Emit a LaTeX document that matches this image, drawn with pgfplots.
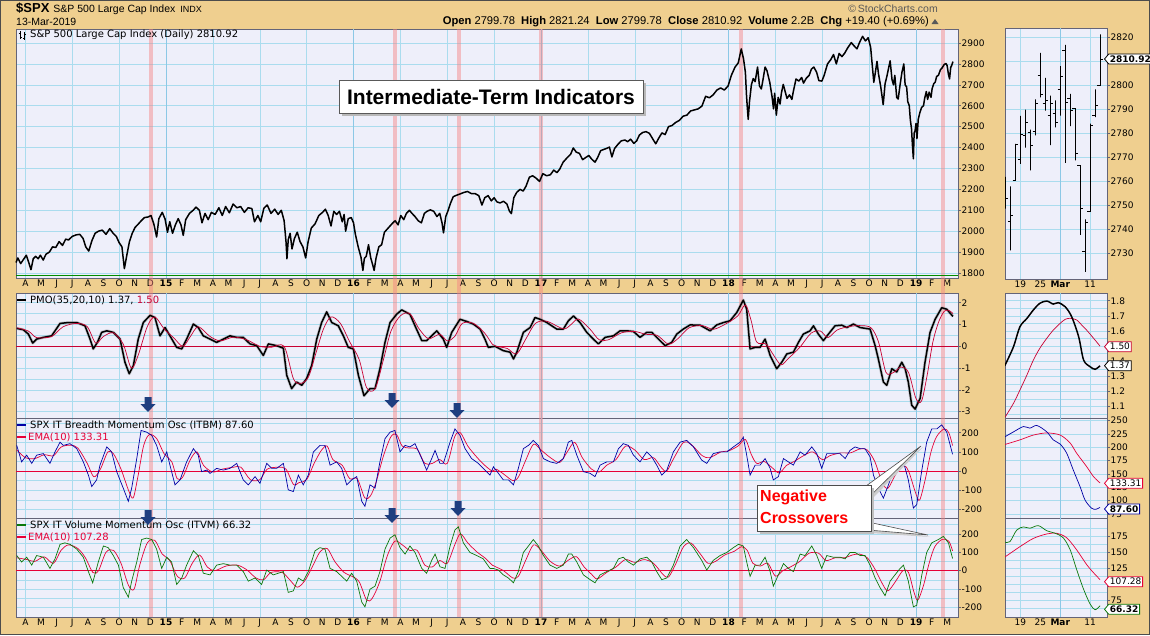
\documentclass[border=0pt]{standalone}
\usepackage{pgfplots}
\pgfplotsset{compat=1.18}
\usepackage{pgfplotstable}
\usepackage{fontspec}
\setmainfont{DejaVu Sans}
\newfontfamily\arial{Liberation Sans}
\usetikzlibrary{shapes.symbols}

\definecolor{bgtan}{RGB}{239,207,143}
\definecolor{panelbg}{RGB}{238,239,250}
\definecolor{gridblue}{RGB}{170,220,238}
\definecolor{gridyear}{RGB}{140,200,230}
\definecolor{framegray}{RGB}{100,100,120}
\definecolor{sigred}{RGB}{200,0,50}
\definecolor{emared}{RGB}{230,0,55}
\definecolor{itbmblue}{RGB}{0,0,165}
\definecolor{itvmgreen}{RGB}{10,120,10}
\definecolor{arrowblue}{RGB}{30,62,128}
\definecolor{bandpink}{RGB}{245,130,130}

\newcommand{\tickfont}{\fontsize{9}{10}\selectfont}
\newcommand{\labfont}{\fontsize{10}{11}\selectfont}
\newcommand{\bands}[2]{%
 \fill[bandpink,opacity=0.45] (2014.909,#1) rectangle (2014.931,#2);
 \fill[bandpink,opacity=0.45] (2016.210,#1) rectangle (2016.232,#2);
 \fill[bandpink,opacity=0.45] (2016.552,#1) rectangle (2016.574,#2);
 \fill[bandpink,opacity=0.45] (2016.989,#1) rectangle (2017.011,#2);
 \fill[bandpink,opacity=0.45] (2018.056,#1) rectangle (2018.078,#2);
 \fill[bandpink,opacity=0.45] (2019.133,#1) rectangle (2019.155,#2);}
\newcommand{\yearlines}[2]{%
 \draw[gridyear,line width=0.6pt] (2015,#1) -- (2015,#2);
 \draw[gridyear,line width=0.6pt] (2016,#1) -- (2016,#2);
 \draw[gridyear,line width=0.6pt] (2017,#1) -- (2017,#2);
 \draw[gridyear,line width=0.6pt] (2018,#1) -- (2018,#2);
 \draw[gridyear,line width=0.6pt] (2019,#1) -- (2019,#2);}

\pgfplotsset{
  basepanel/.style={scale only axis, anchor=north west,
    axis background/.style={fill=panelbg},
    axis line style={draw=framegray, line width=0.9pt},
    grid=both,
    major grid style={draw=gridblue, line width=0.5pt},
    minor grid style={draw=gridblue, line width=0.4pt},
    xticklabels={},
    xtick style={draw=none},
    ytick pos=right, yticklabel pos=right,
    ytick style={draw=framegray, line width=0.6pt},
    tick align=outside, major tick length=2.5pt, minor tick length=0pt,
    yticklabel style={font=\tickfont, anchor=west, inner sep=0.5pt, xshift=0.5pt},
    xticklabel style={font=\tickfont, inner sep=1pt, yshift=-1pt},
    extra x tick style={grid=none, major tick length=0pt, xtick style={draw=none}},
  },
  mainpanel/.style={basepanel, width=942pt, xmin=2014.2, xmax=2019.224,
    xtick={2014.25,2014.5,...,2019.0}},
  rightpanel/.style={basepanel, width=102pt, xmin=-0.1, xmax=20.4, xtick={3,17}},
  monthlabels/.style={
    extra x ticks={2014.25,2014.3333,2014.4167,2014.5,2014.5833,2014.6667,2014.75,2014.8333,2014.9167,
      2015,2015.0833,2015.1667,2015.25,2015.3333,2015.4167,2015.5,2015.5833,2015.6667,2015.75,2015.8333,2015.9167,
      2016,2016.0833,2016.1667,2016.25,2016.3333,2016.4167,2016.5,2016.5833,2016.6667,2016.75,2016.8333,2016.9167,
      2017,2017.0833,2017.1667,2017.25,2017.3333,2017.4167,2017.5,2017.5833,2017.6667,2017.75,2017.8333,2017.9167,
      2018,2018.0833,2018.1667,2018.25,2018.3333,2018.4167,2018.5,2018.5833,2018.6667,2018.75,2018.8333,2018.9167,
      2019,2019.0833,2019.1667},
    extra x tick labels={A,M,J,J,A,S,O,N,D,\textbf{15},F,M,A,M,J,J,A,S,O,N,D,\textbf{16},F,M,A,M,J,J,A,S,O,N,D,\textbf{17},F,M,A,M,J,J,A,S,O,N,D,\textbf{18},F,M,A,M,J,J,A,S,O,N,D,\textbf{19},F,M}},
  daylabels/.style={extra x ticks={3,7,11,17}, extra x tick labels={19,25,\textbf{Mar},11}},
}

% ---------------- main price (daily) ----------------
\pgfplotstableread{
x y
2014.200 1850
2014.210 1872
2014.225 1845
2014.240 1865
2014.255 1885
2014.268 1850
2014.280 1816
2014.292 1868
2014.305 1880
2014.318 1868
2014.330 1885
2014.345 1862
2014.360 1890
2014.378 1900
2014.395 1925
2014.412 1922
2014.430 1950
2014.448 1932
2014.465 1962
2014.480 1958
2014.500 1975
2014.520 1982
2014.540 1985
2014.558 1965
2014.572 1925
2014.588 1905
2014.605 1955
2014.622 1990
2014.640 2000
2014.660 2005
2014.680 1985
2014.700 2012
2014.718 1990
2014.735 1975
2014.750 1945
2014.765 1925
2014.778 1821
2014.790 1880
2014.805 1950
2014.820 1990
2014.835 2018
2014.850 2032
2014.868 2050
2014.885 2065
2014.905 2068
2014.920 2075
2014.935 2035
2014.950 1972
2014.962 2060
2014.980 2090
2014.995 2058
2015.008 1995
2015.020 2045
2015.035 1990
2015.050 2030
2015.065 2060
2015.080 2030
2015.092 1980
2015.105 2055
2015.125 2085
2015.145 2100
2015.160 2115
2015.178 2100
2015.192 2040
2015.208 2085
2015.225 2055
2015.242 2090
2015.262 2080
2015.282 2112
2015.300 2075
2015.318 2118
2015.338 2088
2015.358 2130
2015.378 2112
2015.398 2118
2015.418 2090
2015.438 2112
2015.458 2108
2015.472 2045
2015.490 2075
2015.505 2045
2015.522 2110
2015.540 2125
2015.560 2085
2015.580 2105
2015.598 2080
2015.615 2100
2015.630 2050
2015.640 1950
2015.645 1868
2015.652 1960
2015.662 1990
2015.672 1915
2015.685 1965
2015.700 1995
2015.715 1950
2015.730 1925
2015.745 1872
2015.758 1950
2015.775 2015
2015.795 2035
2015.815 2075
2015.835 2090
2015.850 2105
2015.865 2075
2015.880 2025
2015.895 2095
2015.910 2080
2015.925 2095
2015.940 2045
2015.950 2080
2015.958 2000
2015.972 2060
2015.988 2065
2016.000 2040
2016.010 1985
2016.025 1925
2016.040 1875
2016.050 1812
2016.058 1870
2016.068 1880
2016.080 1935
2016.092 1872
2016.102 1840
2016.110 1812
2016.120 1870
2016.135 1925
2016.150 1935
2016.165 1995
2016.180 2010
2016.195 2025
2016.210 2040
2016.222 2050
2016.238 2030
2016.252 2075
2016.268 2055
2016.282 2085
2016.298 2100
2016.312 2085
2016.328 2070
2016.345 2050
2016.362 2040
2016.378 2085
2016.392 2095
2016.410 2102
2016.428 2095
2016.445 2070
2016.460 2085
2016.472 2040
2016.480 1992
2016.492 2070
2016.505 2100
2016.518 2135
2016.532 2165
2016.550 2172
2016.568 2178
2016.588 2185
2016.608 2190
2016.628 2180
2016.648 2180
2016.668 2170
2016.685 2125
2016.700 2160
2016.718 2170
2016.735 2145
2016.750 2160
2016.765 2140
2016.782 2135
2016.800 2143
2016.818 2130
2016.832 2095
2016.842 2084
2016.855 2160
2016.870 2185
2016.888 2200
2016.905 2192
2016.920 2215
2016.938 2258
2016.955 2265
2016.972 2255
2016.992 2238
2017.010 2275
2017.030 2265
2017.050 2270
2017.068 2292
2017.085 2280
2017.100 2297
2017.118 2330
2017.138 2350
2017.158 2368
2017.172 2398
2017.188 2378
2017.205 2372
2017.222 2342
2017.238 2352
2017.255 2362
2017.270 2345
2017.288 2330
2017.302 2352
2017.318 2385
2017.332 2390
2017.350 2396
2017.365 2402
2017.378 2355
2017.392 2395
2017.410 2415
2017.428 2432
2017.448 2436
2017.462 2428
2017.478 2440
2017.495 2420
2017.510 2432
2017.525 2460
2017.542 2472
2017.560 2476
2017.578 2468
2017.598 2438
2017.612 2418
2017.628 2445
2017.645 2470
2017.662 2462
2017.680 2500
2017.698 2505
2017.718 2520
2017.738 2530
2017.758 2550
2017.778 2555
2017.798 2575
2017.818 2580
2017.838 2585
2017.858 2598
2017.878 2645
2017.898 2638
2017.918 2652
2017.938 2675
2017.958 2685
2017.978 2675
2017.998 2695
2018.015 2745
2018.035 2785
2018.052 2805
2018.068 2872
2018.080 2825
2018.090 2760
2018.096 2650
2018.100 2595
2018.105 2535
2018.112 2620
2018.122 2700
2018.132 2730
2018.142 2715
2018.155 2785
2018.165 2695
2018.175 2680
2018.185 2730
2018.195 2785
2018.205 2768
2018.220 2712
2018.232 2645
2018.240 2585
2018.246 2660
2018.255 2555
2018.265 2640
2018.275 2608
2018.282 2660
2018.292 2702
2018.302 2668
2018.312 2635
2018.325 2652
2018.338 2630
2018.345 2665
2018.360 2728
2018.375 2718
2018.390 2735
2018.400 2708
2018.415 2732
2018.430 2745
2018.442 2775
2018.455 2785
2018.470 2760
2018.482 2720
2018.498 2718
2018.510 2745
2018.528 2800
2018.545 2820
2018.560 2845
2018.575 2800
2018.590 2850
2018.605 2835
2018.620 2852
2018.635 2876
2018.655 2902
2018.668 2888
2018.685 2872
2018.700 2905
2018.715 2932
2018.730 2910
2018.745 2925
2018.758 2880
2018.768 2780
2018.775 2712
2018.785 2770
2018.792 2812
2018.800 2752
2018.812 2690
2018.825 2605
2018.835 2705
2018.845 2742
2018.855 2785
2018.862 2815
2018.872 2725
2018.880 2700
2018.887 2745
2018.897 2640
2018.905 2632
2018.915 2700
2018.925 2760
2018.935 2800
2018.942 2700
2018.950 2690
2018.956 2620
2018.964 2600
2018.970 2530
2018.976 2490
2018.981 2410
2018.986 2346
2018.990 2470
2018.995 2480
2019.000 2515
2019.005 2443
2019.012 2535
2019.020 2565
2019.030 2592
2019.040 2600
2019.046 2635
2019.055 2668
2019.062 2630
2019.070 2665
2019.080 2640
2019.086 2682
2019.095 2706
2019.102 2712
2019.110 2740
2019.120 2746
2019.130 2772
2019.140 2782
2019.150 2797
2019.160 2802
2019.166 2792
2019.173 2750
2019.179 2728
2019.185 2783
2019.190 2792
2019.197 2811
}\pricedata

% ---------------- PMO ----------------
\pgfplotstableread{
x y
2014.204 0.82
2014.239 0.76
2014.266 0.56
2014.289 0.15
2014.310 0.33
2014.346 0.41
2014.390 0.48
2014.435 1.05
2014.479 1.09
2014.524 1.09
2014.568 0.94
2014.595 0.33
2014.612 -0.12
2014.634 0.18
2014.657 0.64
2014.684 0.71
2014.719 0.64
2014.755 0.33
2014.781 -0.73
2014.804 -1.26
2014.826 -0.88
2014.852 0.33
2014.879 1.09
2014.915 1.42
2014.941 1.32
2014.968 0.48
2014.995 0.86
2015.021 0.48
2015.057 -0.05
2015.084 -0.12
2015.110 0.33
2015.146 1.02
2015.172 0.86
2015.199 0.48
2015.235 0.33
2015.270 0.18
2015.306 0.33
2015.341 0.48
2015.377 0.41
2015.412 0.41
2015.448 0.11
2015.484 0.03
2015.519 -0.42
2015.546 0.11
2015.590 0.03
2015.626 -0.09
2015.644 -1.33
2015.670 -1.94
2015.697 -1.64
2015.724 -1.79
2015.750 -1.48
2015.777 -0.88
2015.804 0.33
2015.830 1.09
2015.857 1.58
2015.884 1.09
2015.919 0.94
2015.946 0.48
2015.972 -0.05
2015.999 -0.12
2016.026 -1.33
2016.056 -2.27
2016.088 -1.94
2016.115 -1.94
2016.141 -1.03
2016.168 0.18
2016.195 1.09
2016.230 1.47
2016.257 1.67
2016.301 1.47
2016.328 0.94
2016.364 0.26
2016.390 0.26
2016.417 0.48
2016.444 0.71
2016.479 0.33
2016.497 -0.05
2016.524 0.64
2016.568 1.24
2016.604 1.14
2016.639 1.02
2016.675 0.79
2016.701 0.33
2016.719 -0.05
2016.755 0.00
2016.799 -0.20
2016.835 -0.27
2016.853 -0.58
2016.871 -0.27
2016.906 0.64
2016.942 0.86
2016.968 1.32
2016.995 1.24
2017.031 1.09
2017.084 0.79
2017.119 0.79
2017.146 1.17
2017.173 1.39
2017.208 1.09
2017.244 0.64
2017.279 0.33
2017.306 0.11
2017.342 0.41
2017.386 0.48
2017.422 0.71
2017.457 0.71
2017.493 0.68
2017.528 0.41
2017.564 0.64
2017.591 0.64
2017.617 0.41
2017.662 0.03
2017.697 0.18
2017.724 0.56
2017.759 0.79
2017.795 0.98
2017.848 0.97
2017.902 0.71
2017.937 0.98
2017.973 1.09
2018.008 1.17
2018.044 1.55
2018.079 2.12
2018.097 1.70
2018.115 -0.12
2018.142 -0.05
2018.168 -0.05
2018.195 0.33
2018.222 -0.42
2018.257 -1.03
2018.284 -0.73
2018.311 -0.35
2018.346 -0.27
2018.373 0.18
2018.399 0.56
2018.435 0.71
2018.453 0.94
2018.479 0.56
2018.506 0.26
2018.533 0.56
2018.568 0.94
2018.604 0.97
2018.631 0.86
2018.666 1.02
2018.702 0.86
2018.755 0.79
2018.782 0.03
2018.799 -0.58
2018.826 -1.64
2018.844 -1.79
2018.871 -1.03
2018.897 -1.18
2018.924 -0.73
2018.942 -1.03
2018.959 -1.64
2018.977 -2.70
2018.995 -2.88
2019.022 -2.39
2019.048 -0.73
2019.075 0.64
2019.102 1.24
2019.137 1.77
2019.164 1.70
2019.197 1.37
}\pmodata

\pgfplotstableread{
x y
2014.204 0.85
2014.266 0.70
2014.310 0.40
2014.390 0.45
2014.452 0.90
2014.524 1.05
2014.580 0.90
2014.625 0.15
2014.666 0.45
2014.719 0.62
2014.772 0.10
2014.815 -1.00
2014.852 -0.40
2014.900 0.90
2014.940 1.35
2014.990 0.80
2015.040 0.40
2015.090 0.00
2015.130 0.45
2015.172 0.90
2015.235 0.45
2015.290 0.25
2015.360 0.42
2015.430 0.30
2015.500 0.00
2015.560 -0.05
2015.630 0.00
2015.680 -1.50
2015.720 -1.70
2015.760 -1.40
2015.800 -0.30
2015.840 0.80
2015.880 1.35
2015.930 1.05
2015.980 0.20
2016.030 -0.60
2016.070 -1.90
2016.115 -1.95
2016.160 -0.60
2016.200 0.70
2016.250 1.40
2016.300 1.50
2016.350 0.80
2016.400 0.35
2016.460 0.55
2016.500 0.25
2016.540 0.45
2016.580 1.05
2016.640 1.05
2016.700 0.60
2016.740 0.10
2016.760 0.00
2016.820 -0.10
2016.870 -0.35
2016.920 0.35
2016.970 1.05
2017.030 1.15
2017.120 0.80
2017.160 1.00
2017.200 1.25
2017.260 0.80
2017.310 0.30
2017.360 0.30
2017.430 0.62
2017.500 0.68
2017.560 0.55
2017.620 0.50
2017.680 0.10
2017.730 0.35
2017.790 0.85
2017.860 0.95
2017.920 0.78
2017.990 1.05
2018.050 1.40
2018.090 1.90
2018.120 1.20
2018.150 0.20
2018.200 0.10
2018.240 -0.40
2018.280 -0.85
2018.320 -0.55
2018.380 -0.05
2018.440 0.60
2018.490 0.70
2018.530 0.40
2018.580 0.75
2018.640 0.90
2018.700 0.95
2018.760 0.85
2018.800 0.20
2018.840 -1.20
2018.880 -1.20
2018.920 -0.95
2018.960 -1.20
2019.000 -2.40
2019.030 -2.50
2019.060 -1.30
2019.090 0.20
2019.120 1.10
2019.150 1.60
2019.175 1.65
2019.197 1.50
}\pmosig

% ---------------- ITBM ----------------
\pgfplotstableread{
x y
2014.204 134
2014.230 48
2014.257 83
2014.284 40
2014.310 83
2014.346 91
2014.381 40
2014.408 100
2014.435 151
2014.452 134
2014.488 143
2014.524 117
2014.559 48
2014.586 -21
2014.604 -81
2014.630 -46
2014.648 31
2014.684 126
2014.710 100
2014.737 -3
2014.772 -89
2014.799 -158
2014.817 -89
2014.844 65
2014.867 212
2014.897 203
2014.924 186
2014.950 134
2014.977 48
2015.004 100
2015.021 31
2015.048 -72
2015.075 -46
2015.110 48
2015.146 117
2015.172 83
2015.190 -3
2015.217 5
2015.235 -12
2015.270 14
2015.306 5
2015.341 14
2015.377 40
2015.412 -46
2015.439 -72
2015.475 -29
2015.501 -64
2015.537 40
2015.564 14
2015.590 14
2015.626 40
2015.652 -98
2015.679 -107
2015.706 -21
2015.732 -72
2015.759 -21
2015.786 100
2015.821 134
2015.848 134
2015.875 31
2015.910 48
2015.937 14
2015.964 -72
2015.990 -46
2016.017 -29
2016.044 -158
2016.061 -184
2016.088 -72
2016.115 -89
2016.141 48
2016.168 169
2016.195 203
2016.221 212
2016.248 100
2016.275 134
2016.301 126
2016.328 143
2016.364 65
2016.390 5
2016.417 65
2016.435 108
2016.461 40
2016.479 40
2016.515 151
2016.541 220
2016.568 186
2016.595 117
2016.630 65
2016.666 40
2016.701 5
2016.728 -21
2016.746 22
2016.773 -12
2016.799 -46
2016.826 -46
2016.853 -72
2016.879 14
2016.906 117
2016.933 134
2016.959 160
2016.986 134
2017.013 65
2017.048 48
2017.084 40
2017.119 65
2017.146 151
2017.164 160
2017.191 83
2017.226 -3
2017.262 -12
2017.288 -29
2017.315 31
2017.351 48
2017.386 48
2017.413 117
2017.439 143
2017.466 134
2017.493 83
2017.528 48
2017.564 100
2017.591 74
2017.617 31
2017.644 -21
2017.671 5
2017.706 100
2017.742 151
2017.777 160
2017.813 126
2017.857 57
2017.884 40
2017.919 91
2017.955 100
2017.991 100
2018.026 126
2018.062 151
2018.079 177
2018.097 83
2018.115 -21
2018.142 31
2018.168 31
2018.195 65
2018.222 14
2018.239 -46
2018.266 -29
2018.293 65
2018.319 48
2018.346 31
2018.382 100
2018.408 83
2018.444 126
2018.471 91
2018.497 14
2018.524 91
2018.559 91
2018.595 91
2018.622 65
2018.648 108
2018.675 126
2018.702 117
2018.728 117
2018.755 74
2018.773 -21
2018.799 -89
2018.826 -141
2018.853 -72
2018.879 5
2018.906 31
2018.933 48
2018.959 -46
2018.986 -193
2019.004 -175
2019.031 5
2019.057 151
2019.084 220
2019.111 220
2019.137 241
2019.164 203
2019.195 87.6
}\itbmdata

\pgfplotstableread{
x y
2014.204 110
2014.250 70
2014.300 65
2014.350 85
2014.400 80
2014.440 125
2014.490 135
2014.530 120
2014.580 40
2014.615 -30
2014.650 10
2014.690 100
2014.720 90
2014.760 10
2014.800 -100
2014.825 -140
2014.850 -30
2014.880 130
2014.910 190
2014.950 170
2014.990 90
2015.030 50
2015.060 -40
2015.090 -30
2015.130 60
2015.165 100
2015.200 30
2015.250 -5
2015.300 10
2015.360 20
2015.400 20
2015.450 -45
2015.500 -45
2015.540 10
2015.600 20
2015.640 10
2015.680 -70
2015.710 -60
2015.750 -45
2015.790 40
2015.830 110
2015.860 130
2015.890 60
2015.940 30
2015.980 -40
2016.020 -40
2016.060 -140
2016.090 -130
2016.120 -60
2016.160 80
2016.200 180
2016.230 190
2016.260 130
2016.300 120
2016.340 115
2016.380 40
2016.420 40
2016.460 60
2016.500 40
2016.540 180
2016.570 200
2016.610 130
2016.660 70
2016.700 30
2016.740 0
2016.760 10
2016.800 -15
2016.850 -50
2016.880 -30
2016.920 60
2016.960 140
2017.000 110
2017.050 70
2017.100 45
2017.140 100
2017.180 150
2017.220 70
2017.270 10
2017.310 -5
2017.350 30
2017.400 60
2017.450 130
2017.500 110
2017.550 60
2017.600 70
2017.640 20
2017.670 0
2017.710 70
2017.760 150
2017.800 140
2017.860 80
2017.900 70
2017.960 100
2018.000 105
2018.050 130
2018.090 165
2018.120 90
2018.150 40
2018.190 50
2018.230 20
2018.270 -10
2018.310 30
2018.350 50
2018.400 80
2018.450 100
2018.500 60
2018.540 80
2018.600 95
2018.650 95
2018.700 115
2018.740 110
2018.780 50
2018.820 -60
2018.850 -90
2018.890 -20
2018.930 30
2018.960 0
2019.000 -120
2019.020 -150
2019.050 -40
2019.080 100
2019.110 180
2019.150 220
2019.175 200
2019.195 133.31
}\itbmema

% ---------------- ITVM ----------------
\pgfplotstableread{
x y
2014.204 82
2014.230 47
2014.257 73
2014.284 30
2014.310 82
2014.346 73
2014.381 12
2014.408 64
2014.435 143
2014.461 151
2014.488 143
2014.524 117
2014.559 73
2014.586 -5
2014.609 -66
2014.639 47
2014.666 134
2014.692 125
2014.719 82
2014.746 30
2014.772 -92
2014.799 -144
2014.817 -57
2014.844 47
2014.870 169
2014.897 177
2014.924 169
2014.950 117
2014.977 12
2015.004 73
2015.030 47
2015.057 -75
2015.084 -40
2015.110 30
2015.146 108
2015.172 82
2015.199 -14
2015.235 -23
2015.270 30
2015.306 38
2015.341 30
2015.377 30
2015.412 -5
2015.439 -57
2015.475 -40
2015.510 -75
2015.537 3
2015.572 -23
2015.599 -14
2015.626 -5
2015.652 -118
2015.679 -110
2015.706 -40
2015.732 -57
2015.759 -5
2015.795 108
2015.821 125
2015.848 117
2015.875 12
2015.910 -5
2015.937 -31
2015.964 -57
2015.990 -14
2016.017 -57
2016.044 -171
2016.061 -197
2016.088 -101
2016.115 -84
2016.141 -5
2016.168 117
2016.195 177
2016.221 195
2016.248 125
2016.275 90
2016.301 134
2016.328 99
2016.364 12
2016.390 -14
2016.417 56
2016.435 90
2016.461 21
2016.488 12
2016.515 134
2016.541 221
2016.559 238
2016.586 151
2016.621 99
2016.657 82
2016.692 64
2016.728 12
2016.746 12
2016.773 3
2016.799 -23
2016.826 -40
2016.853 -66
2016.879 -5
2016.906 99
2016.933 134
2016.959 169
2016.986 134
2017.013 82
2017.048 30
2017.084 12
2017.119 30
2017.146 90
2017.164 90
2017.191 47
2017.226 -23
2017.262 -49
2017.288 -66
2017.315 -23
2017.351 -5
2017.386 12
2017.413 64
2017.439 73
2017.466 47
2017.493 30
2017.528 64
2017.564 73
2017.591 47
2017.617 -5
2017.644 -49
2017.671 -40
2017.706 30
2017.742 134
2017.777 169
2017.813 125
2017.857 56
2017.884 3
2017.919 56
2017.955 82
2017.991 99
2018.026 125
2018.053 143
2018.079 134
2018.097 47
2018.115 -31
2018.142 30
2018.168 30
2018.195 73
2018.222 -5
2018.239 -84
2018.266 -23
2018.293 38
2018.319 12
2018.346 -5
2018.382 90
2018.408 82
2018.444 134
2018.471 82
2018.497 12
2018.524 82
2018.559 73
2018.595 73
2018.622 64
2018.648 99
2018.675 99
2018.702 82
2018.728 82
2018.755 30
2018.782 -40
2018.808 -92
2018.835 -136
2018.862 -57
2018.888 -23
2018.915 12
2018.933 30
2018.959 -57
2018.986 -197
2019.004 -188
2019.031 -23
2019.057 99
2019.084 151
2019.119 169
2019.146 186
2019.173 151
2019.195 66.32
}\itvmdata

\pgfplotstableread{
x y
2014.204 70
2014.260 60
2014.300 50
2014.350 75
2014.400 40
2014.440 110
2014.480 140
2014.530 120
2014.570 70
2014.610 -10
2014.640 0
2014.680 100
2014.720 110
2014.760 40
2014.800 -80
2014.830 -100
2014.860 30
2014.900 150
2014.940 165
2014.980 90
2015.020 55
2015.060 -30
2015.100 -40
2015.140 40
2015.180 85
2015.220 20
2015.260 0
2015.320 25
2015.380 30
2015.430 5
2015.480 -40
2015.520 -50
2015.560 -10
2015.620 -10
2015.660 -50
2015.700 -90
2015.740 -55
2015.780 20
2015.820 100
2015.860 120
2015.900 50
2015.950 -10
2015.990 -30
2016.030 -60
2016.070 -160
2016.100 -150
2016.140 -60
2016.180 80
2016.220 160
2016.260 140
2016.300 110
2016.340 110
2016.380 30
2016.420 20
2016.460 55
2016.500 40
2016.540 140
2016.570 200
2016.610 150
2016.660 100
2016.700 70
2016.740 30
2016.760 20
2016.800 0
2016.850 -40
2016.880 -30
2016.920 60
2016.960 140
2017.000 110
2017.050 50
2017.100 25
2017.150 60
2017.190 75
2017.230 20
2017.270 -20
2017.300 -45
2017.350 -10
2017.400 20
2017.450 60
2017.500 45
2017.550 60
2017.600 40
2017.650 -20
2017.680 -35
2017.720 40
2017.760 130
2017.800 150
2017.850 90
2017.890 40
2017.930 50
2017.980 85
2018.030 105
2018.070 130
2018.100 110
2018.130 40
2018.170 25
2018.210 40
2018.250 -30
2018.290 0
2018.330 20
2018.380 50
2018.430 95
2018.480 95
2018.520 55
2018.570 70
2018.620 70
2018.660 85
2018.700 90
2018.740 70
2018.780 10
2018.820 -70
2018.850 -110
2018.890 -60
2018.930 0
2018.960 -10
2018.990 -120
2019.010 -160
2019.040 -80
2019.070 40
2019.100 130
2019.140 170
2019.175 160
2019.195 107.28
}\itvmema

% ---------------- right panels (Feb 13 = 0 ... Mar 13 = 19) ----------------
\pgfplotstableread{
x y
-0.55 2750.30
0 2750.30
0 2761.85
0 2748.63
0 2753.03
0.55 2753.03
nan nan
0.45 2743.50
1 2743.50
1 2757.90
1 2731.23
1 2745.73
1.55 2745.73
nan nan
1.45 2760.24
2 2760.24
2 2775.66
2 2760.24
2 2775.60
2.55 2775.60
nan nan
2.45 2769.28
3 2769.28
3 2787.33
3 2767.29
3 2779.76
3.55 2779.76
nan nan
3.45 2779.05
4 2779.05
4 2789.88
4 2774.06
4 2784.70
4.55 2784.70
nan nan
4.45 2780.24
5 2780.24
5 2781.58
5 2764.55
5 2774.88
5.55 2774.88
nan nan
5.45 2780.67
6 2780.67
6 2794.20
6 2779.11
6 2792.67
6.55 2792.67
nan nan
6.45 2804.35
7 2804.35
7 2813.49
7 2794.99
7 2796.11
7.55 2796.11
nan nan
7.45 2792.36
8 2792.36
8 2803.12
8 2789.47
8 2793.90
8.55 2793.90
nan nan
8.45 2787.50
9 2787.50
9 2795.76
9 2775.13
9 2792.38
9.55 2792.38
nan nan
9.45 2788.11
10 2788.11
10 2793.73
10 2782.51
10 2784.49
10.55 2784.49
nan nan
10.45 2798.22
11 2798.22
11 2808.02
11 2787.38
11 2803.69
11.55 2803.69
nan nan
11.45 2814.37
12 2814.37
12 2816.88
12 2767.66
12 2792.81
12.55 2792.81
nan nan
12.45 2794.41
13 2794.41
13 2796.44
13 2782.97
13 2789.65
13.55 2789.65
nan nan
13.45 2790.27
14 2790.27
14 2790.27
14 2768.69
14 2771.45
14.55 2771.45
nan nan
14.45 2766.53
15 2766.53
15 2766.53
15 2737.66
15 2748.93
15.55 2748.93
nan nan
15.45 2730.79
16 2730.79
16 2744.13
16 2722.27
16 2743.07
16.55 2743.07
nan nan
16.45 2747.61
17 2747.61
17 2784.00
17 2747.61
17 2783.30
17.55 2783.30
nan nan
17.45 2787.34
18 2787.34
18 2798.32
18 2786.73
18 2791.52
18.55 2791.52
nan nan
18.45 2799.78
19 2799.78
19 2821.24
19 2799.78
19 2810.92
19.55 2810.92
}\ohlcdata

\pgfplotstableread{
x y
-0.1 1.375
0.1 1.387
1.6 1.496
2.9 1.628
4.3 1.683
5.6 1.739
6.9 1.783
8.3 1.798
9.6 1.778
10.6 1.787
12.0 1.760
13.3 1.694
14.7 1.562
15.7 1.408
17.0 1.364
18.0 1.347
19.0 1.370
}\rpmo
\pgfplotstableread{
x y
-0.1 1.030
1.6 1.122
2.9 1.210
4.3 1.309
5.6 1.408
6.9 1.486
8.3 1.552
9.6 1.606
11.0 1.651
12.0 1.677
13.0 1.684
14.3 1.673
15.3 1.640
16.3 1.606
17.7 1.552
19.0 1.500
}\rpmosig
\pgfplotstableread{
x y
-0.1 220
0.1 221
1.6 229
3.6 239
4.9 236
6.3 241
8.3 229
9.6 214
11.0 206
12.3 189
13.6 158
15.0 126
16.0 101
17.3 86
18.2 84
19.0 87.6
}\ritbm
\pgfplotstableread{
x y
-0.1 205
0.1 206
2.9 214
5.6 223
8.3 227
11.0 223
13.0 208
14.3 189
16.3 164
17.7 145
19.0 133.31
}\ritbmema
\pgfplotstableread{
x y
-0.1 166
0.9 167
2.25 185
3.6 190
4.9 188
6.6 192
8.3 184
10.0 180
11.6 173
13.0 154
14.3 123
15.7 92
17.0 69
18.0 60
19.0 66.32
}\ritvm
\pgfplotstableread{
x y
-0.1 143
0.1 144
2.9 159
5.6 172
8.3 179
10.3 180
12.3 173
14.3 154
16.3 131
17.7 118
19.0 107.28
}\ritvmema

\begin{document}
\begin{tikzpicture}
\fill[bgtan] (0,0) rectangle (1150pt,-635pt);
\path[use as bounding box] (0,0) rectangle (1150pt,-635pt);

% ===== main price =====
\begin{axis}[mainpanel, monthlabels, at={(16pt,-29pt)}, height=249pt,
  ymin=1776, ymax=2967, clip=false,
  ytick={1800,1900,2000,2100,2200,2300,2400,2500,2600,2700,2800,2900},
  yticklabels={1800,1900,2000,2100,2200,2300,2400,2500,2600,2700,2800,2900}]
  \yearlines{1776}{2967}
  \bands{1704}{2967}
  \draw[green!55!black, line width=0.7pt] (2014.2,1790) -- (2019.224,1790);
  \addplot[black, line width=1.5pt, line join=round] table {\pricedata};
\end{axis}

% ===== PMO =====
\begin{axis}[mainpanel, at={(16pt,-293pt)}, height=125pt,
  ymin=-3.29, ymax=2.445,
  ytick={-3,-2,-1,0,1,2}, yticklabels={-3,-2,-1,0,1,2},
  minor ytick={-2.5,-1.5,-0.5,0.5,1.5}]
  \yearlines{-3.29}{2.445}
  \bands{-3.29}{2.445}
  \draw[sigred, line width=0.8pt] (2014.2,0) -- (2019.224,0);
  \addplot[gray, opacity=0.35, line width=3pt, line join=round] table {\pmodata};
  \addplot[black, line width=1.5pt, line join=round] table {\pmodata};
  \addplot[sigred, line width=0.7pt, smooth] table {\pmosig};
\end{axis}

% ===== ITBM =====
\begin{axis}[mainpanel, at={(16pt,-418pt)}, height=100pt,
  ymin=-245, ymax=276.8,
  ytick={-200,-100,0,100,200}, yticklabels={-200,-100,0,100,200},
  minor ytick={-150,-50,50,150,250}]
  \yearlines{-245}{276.8}
  \bands{-245}{276.8}
  \draw[emared, line width=0.8pt] (2014.2,0) -- (2019.224,0);
  \addplot[emared, line width=0.7pt, smooth] table {\itbmema};
  \addplot[itbmblue, line width=0.7pt] table {\itbmdata};
\end{axis}

% ===== ITVM =====
\begin{axis}[mainpanel, monthlabels, at={(16pt,-518pt)}, height=99pt,
  ymin=-252, ymax=286,
  ytick={-200,-100,0,100,200}, yticklabels={-200,-100,0,100,200},
  minor ytick={-150,-50,50,150,250}]
  \yearlines{-252}{286}
  \bands{-252}{286}
  \draw[emared, line width=0.8pt] (2014.2,0) -- (2019.224,0);
  \addplot[emared, line width=0.7pt, smooth] table {\itvmema};
  \addplot[itvmgreen, line width=0.7pt] table {\itvmdata};
\end{axis}

% ===== right price =====
\begin{axis}[rightpanel, daylabels, at={(1005pt,-28pt)}, height=251pt,
  ymin=2719.3, ymax=2823.9,
  ytick={2730,2740,2750,2760,2770,2780,2790,2800,2810,2820},
  yticklabels={2730,2740,2750,2760,2770,2780,2790,2800,,2820}]
  \draw[gridyear,line width=0.6pt] (11,2719.3) -- (11,2823.9);
  \addplot[black, line width=0.8pt, unbounded coords=jump] table {\ohlcdata};
\end{axis}

% ===== right PMO =====
\begin{axis}[rightpanel, at={(1005pt,-293pt)}, height=125pt,
  ymin=1.025, ymax=1.851,
  ytick={1.1,1.2,1.3,1.4,1.5,1.6,1.7,1.8},
  yticklabels={1.1,1.2,1.3,1.4,,1.6,1.7,1.8},
  minor ytick={1.05,1.15,1.25,1.35,1.45,1.55,1.65,1.75,1.85}]
  \draw[gridyear,line width=0.6pt] (11,1.025) -- (11,1.851);
  \addplot[sigred, line width=0.7pt, smooth] table {\rpmosig};
  \addplot[black, line width=1.5pt, smooth] table {\rpmo};
\end{axis}

% ===== right ITBM =====
\begin{axis}[rightpanel, at={(1005pt,-418pt)}, height=100pt,
  ymin=67.6, ymax=255,
  ytick={75,100,125,150,175,200,225,250},
  yticklabels={75,100,125,150,175,200,225,250}]
  \draw[gridyear,line width=0.6pt] (11,67.6) -- (11,255);
  \addplot[emared, line width=0.7pt, smooth] table {\ritbmema};
  \addplot[itbmblue, line width=0.7pt, smooth] table {\ritbm};
\end{axis}

% ===== right ITVM =====
\begin{axis}[rightpanel, daylabels, at={(1005pt,-518pt)}, height=99pt,
  ymin=48.6, ymax=204,
  ytick={75,100,125,150,175},
  yticklabels={75,,125,150,175},
  minor ytick={62.5,87.5,112.5,137.5,162.5,187.5}]
  \draw[gridyear,line width=0.6pt] (11,48.6) -- (11,204);
  \addplot[emared, line width=0.7pt, smooth] table {\ritvmema};
  \addplot[itvmgreen, line width=0.7pt, smooth] table {\ritvm};
\end{axis}

% ===== annotations in pixel frame =====
\begin{scope}[x=1pt,y=-1pt]
  \draw[gray!60!black, line width=1pt] (0.5,0.5) rectangle (1149.5,634.5);
  \node[anchor=west, inner sep=0pt] at (16,9)
    {\arial{\fontsize{13}{14}\selectfont\bfseries \$SPX}\hspace{4pt}{\fontsize{10.5}{12}\selectfont S\&P 500 Large Cap Index}\hspace{5pt}{\fontsize{9}{10}\selectfont INDX}};
  \node[anchor=west, inner sep=0pt] at (16,22) {\arial\fontsize{10.5}{12}\selectfont 13-Mar-2019};
  \node[anchor=east, inner sep=0pt, text=gray!70!black] at (938,9) {\arial\fontsize{10.5}{12}\selectfont \textcopyright\,StockCharts.com};
  \node[anchor=east, inner sep=0pt] at (929,22)
    {\arial\fontsize{11.2}{12}\selectfont \textbf{Open} 2799.78\ \ \textbf{High} 2821.24\ \ \textbf{Low} 2799.78\ \ \textbf{Close} 2810.92\ \ \textbf{Volume} 2.2B\ \ \textbf{Chg} +19.40 (+0.69\%)};
  \fill[gray!70!black] (931.5,24) -- (938.5,24) -- (935,19) -- cycle;

  \draw[black, line width=0.8pt] (20,31) -- (20,39) (18.5,33) -- (20,33) (20,37) -- (21.5,37);
  \draw[black, line width=0.8pt] (24,32) -- (24,40) (22.5,38) -- (24,38) (24,34) -- (25.5,34);
  \node[anchor=west, inner sep=0pt] at (30,35) {\labfont S\&P 500 Large Cap Index (Daily) 2810.92};

  \draw[black, line width=2pt] (17,300) -- (26,300);
  \node[anchor=west, inner sep=0pt] at (30,300) {\labfont PMO(35,20,10) 1.37, \textcolor{sigred}{1.50}};

  \draw[itbmblue, line width=2pt] (17,425) -- (26,425);
  \node[anchor=west, inner sep=0pt] at (30,425) {\labfont SPX IT Breadth Momentum Osc (ITBM) 87.60};
  \draw[emared, line width=2pt] (17,437) -- (26,437);
  \node[anchor=west, inner sep=0pt, text=emared] at (28,437) {\labfont EMA(10) 133.31};

  \draw[itvmgreen, line width=2pt] (17,525) -- (26,525);
  \node[anchor=west, inner sep=0pt] at (30,525) {\labfont SPX IT Volume Momentum Osc (ITVM) 66.32};
  \draw[emared, line width=2pt] (17,537) -- (26,537);
  \node[anchor=west, inner sep=0pt, text=emared] at (28,537) {\labfont EMA(10) 107.28};

  \foreach \cx/\ty in {148/397, 392/393, 457/403, 148/510, 392/508, 458/501} {
    \fill[arrowblue] (\cx-3.5,\ty) -- (\cx+3.5,\ty) -- (\cx+3.5,\ty+7) -- (\cx+7.5,\ty+7)
      -- (\cx,\ty+15) -- (\cx-7.5,\ty+7) -- (\cx-3.5,\ty+7) -- cycle;
  }

  \fill[gray!55] (342,83) rectangle (646,116);
  \draw[gray!70!black, fill=white, line width=0.8pt] (339,80) rectangle (643,113);
  \node[inner sep=0pt] at (491,97) {\arial\bfseries\fontsize{21}{24}\selectfont Intermediate-Term Indicators};

  \fill[gray!40] (868,488) -- (868,503) -- (923,447) -- cycle;
  \draw[gray!60!black, fill=white, line width=0.6pt] (866,486) -- (866,500) -- (921,446) -- cycle;
  \fill[gray!40] (870,525) -- (870,533) -- (930,537) -- cycle;
  \draw[gray!60!black, fill=white, line width=0.6pt] (868,522) -- (868,530) -- (928,535) -- cycle;
  \fill[gray!50] (760,488) rectangle (874,534);
  \draw[gray!60!black, fill=white, line width=0.6pt] (757,485) rectangle (871,531);
  \node[anchor=west, inner sep=0pt, text=red] at (760,497) {\arial\bfseries\fontsize{16}{18}\selectfont Negative};
  \node[anchor=west, inner sep=0pt, text=red] at (760,518) {\arial\bfseries\fontsize{16}{18}\selectfont Crossovers};

  \tikzset{vtag/.style={signal, signal to=west, signal pointer angle=100, draw, fill=white,
      line width=0.8pt, inner sep=1.2pt, anchor=west, font=\tickfont, minimum height=10pt}}
  \node[vtag, draw=black, font=\tickfont\bfseries] at (1104,59) {2810.92};
  \node[vtag, draw=sigred] at (1104,346.7) {1.50};
  \node[vtag, draw=black] at (1104,365.7) {1.37};
  \node[vtag, draw=emared] at (1104,483.3) {133.31};
  \node[vtag, draw=itbmblue, font=\tickfont\bfseries] at (1104,509) {87.60};
  \node[vtag, draw=emared] at (1104,581.7) {107.28};
  \node[vtag, draw=itvmgreen, font=\tickfont\bfseries] at (1104,609.3) {66.32};
\end{scope}
\end{tikzpicture}
\end{document}
